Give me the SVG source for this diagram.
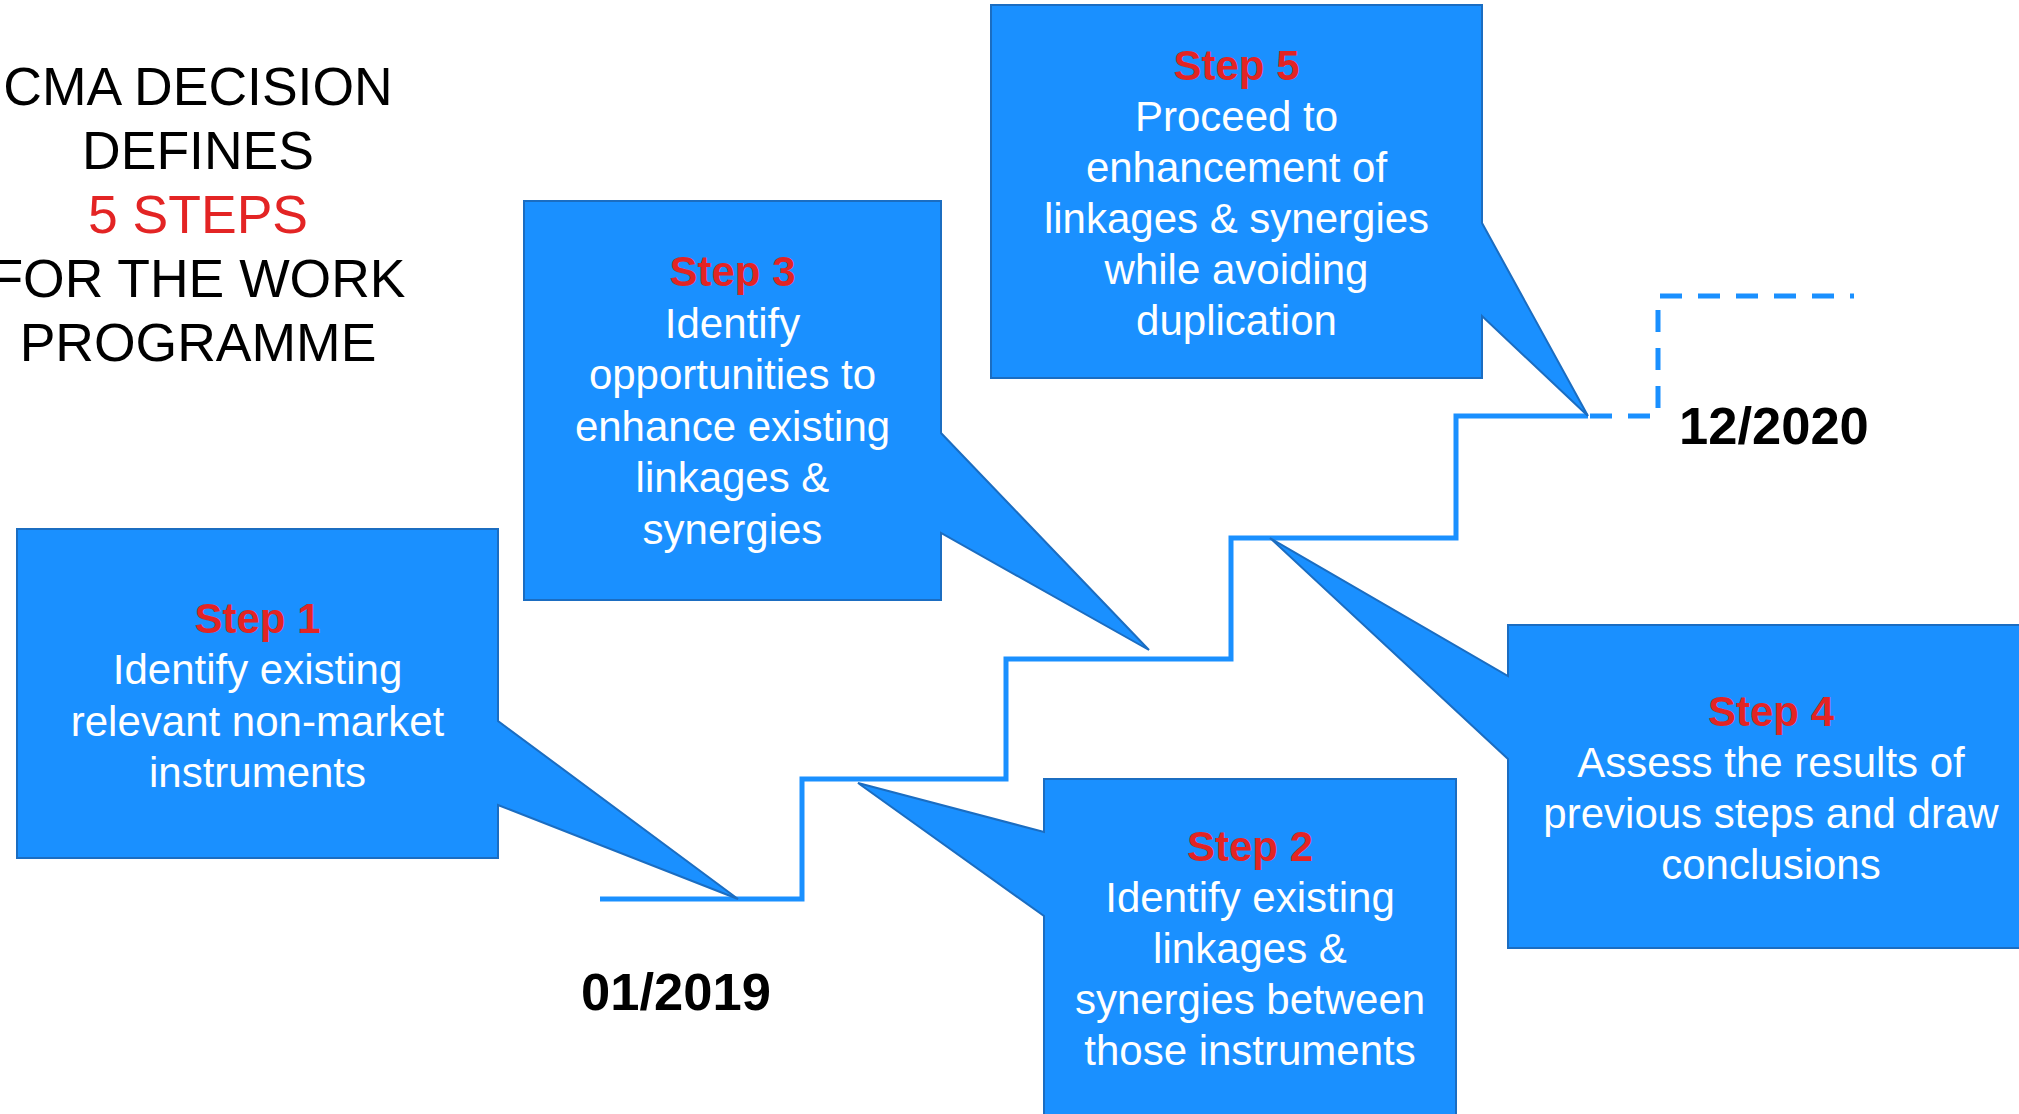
<svg xmlns="http://www.w3.org/2000/svg" width="2019" height="1114" viewBox="0 0 2019 1114">
<style>
.bg{fill:#ffffff}
.callout{fill:#1A90FF;stroke:#1B6DC1;stroke-width:2;stroke-linejoin:miter}
.stair{fill:none;stroke:#1A90FF;stroke-width:5}
.dash{fill:none;stroke:#1A90FF;stroke-width:5;stroke-dasharray:22 16}
.title{font-family:"Liberation Sans",Arial,sans-serif;font-size:53.5px;fill:#000000;text-anchor:middle}
.red{fill:#E32424}
.step{font-family:"Liberation Sans",Arial,sans-serif;font-size:42px;font-weight:bold;fill:#E32424;text-anchor:middle}
.body{font-family:"Liberation Sans",Arial,sans-serif;font-size:42px;fill:#ffffff;text-anchor:middle}
.date{font-family:"Liberation Sans",Arial,sans-serif;font-size:52.5px;font-weight:bold;fill:#000000}
</style>
<rect class="bg" x="0" y="0" width="2019" height="1114"/>

<g id="title">
<text class="title" x="198" y="105">CMA DECISION</text>
<text class="title" x="198" y="169">DEFINES</text>
<text class="title red" x="198" y="233">5 STEPS</text>
<text class="title" x="198" y="297">FOR THE WORK</text>
<text class="title" x="198" y="361">PROGRAMME</text>
</g>

<g id="connectors">
<path class="stair" d="M600,899 H802 V779 H1006 V659 H1231 V538 H1456 V416 H1588"/>
<path class="dash" d="M1590,416 H1658 V296 H1854"/>
</g>

<g id="step1">
<path class="callout" d="M17,529 H498 V721 L738,899 L498,805 V858 H17 Z"/>
<text class="step" x="257.5" y="633">Step 1</text>
<text class="body" x="257.5" y="684">Identify existing</text>
<text class="body" x="257.5" y="735.5">relevant non-market</text>
<text class="body" x="257.5" y="787">instruments</text>
</g>

<g id="step2">
<path class="callout" d="M1044,779 H1456 V1120 H1044 V916 L858,783 L1044,832 Z"/>
<text class="step" x="1250" y="861">Step 2</text>
<text class="body" x="1250" y="912">Identify existing</text>
<text class="body" x="1250" y="963">linkages &amp;</text>
<text class="body" x="1250" y="1014">synergies between</text>
<text class="body" x="1250" y="1065">those instruments</text>
</g>

<g id="step3">
<path class="callout" d="M524,201 H941 V433 L1149,650 L941,533 V600 H524 Z"/>
<text class="step" x="732.5" y="286">Step 3</text>
<text class="body" x="732.5" y="337.5">Identify</text>
<text class="body" x="732.5" y="389">opportunities to</text>
<text class="body" x="732.5" y="440.5">enhance existing</text>
<text class="body" x="732.5" y="492">linkages &amp;</text>
<text class="body" x="732.5" y="543.5">synergies</text>
</g>

<g id="step4">
<path class="callout" d="M1508,625 H2040 V948 H1508 V759 L1270,538 L1508,676 Z"/>
<text class="step" x="1771" y="726">Step 4</text>
<text class="body" x="1771" y="777">Assess the results of</text>
<text class="body" x="1771" y="828">previous steps and draw</text>
<text class="body" x="1771" y="879">conclusions</text>
</g>

<g id="step5">
<path class="callout" d="M991,5 H1482 V223 L1588,416 L1482,316 V378 H991 Z"/>
<text class="step" x="1236.5" y="80">Step 5</text>
<text class="body" x="1236.5" y="131">Proceed to</text>
<text class="body" x="1236.5" y="182">enhancement of</text>
<text class="body" x="1236.5" y="233">linkages &amp; synergies</text>
<text class="body" x="1236.5" y="284">while avoiding</text>
<text class="body" x="1236.5" y="335">duplication</text>
</g>

<g id="dates">
<text class="date" x="676" y="1010" text-anchor="middle">01/2019</text>
<text class="date" x="1679" y="444">12/2020</text>
</g>
</svg>
